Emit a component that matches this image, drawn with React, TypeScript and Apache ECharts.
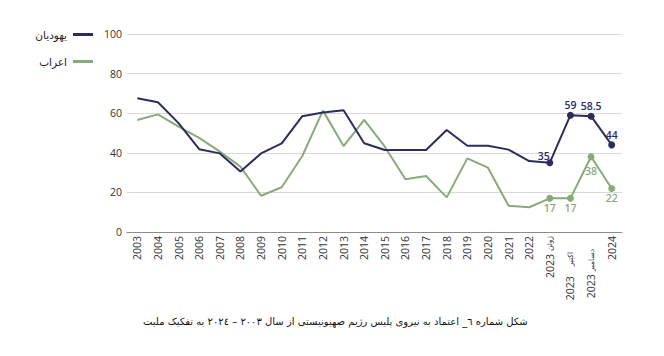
import React, { useEffect, useRef } from "react";
import * as echarts from "echarts";

const categories = [
  "2003", "2004", "2005", "2006", "2007", "2008", "2009", "2010", "2011", "2012",
  "2013", "2014", "2015", "2016", "2017", "2018", "2019", "2020", "2021", "2022",
  "2023 ژوئن", "2023 اکتبر", "2023 دسامبر", "2024",
];

const jews = [
  67.5, 65.5, 55, 41.8, 39.7, 30.5, 39.7, 44.8, 58.5, 60.4,
  61.5, 44.8, 41.4, 41.4, 41.4, 51.5, 43.6, 43.6, 41.6, 35.8,
  35, 59, 58.5, 44,
];

const arabs = [
  56.6, 59.4, 53.2, 47.5, 40.6, 33, 18.3, 22.6, 38.4, 61.3,
  43.4, 56.6, 43.1, 26.6, 28.3, 17.5, 37.2, 32.5, 13.3, 12.5,
  17, 17, 38, 22,
];

const yTicks = [0, 20, 40, 60, 80, 100];

const seriesNames = ["یهودیان", "اعراب"];
const caption =
  "شکل شماره ٦_ اعتماد به نیروی پلیس رژیم صهیونیستی از سال ۲۰۰۳ – ۲۰۲٤ به تفکیک ملیت";

const NAVY = "#2c2d5c";
const GREEN = "#88ab79";
const MARK_FROM = 20;

function buildData(values: number[], color: string, pos: "top" | "bottom", offsets: Record<number, number[]>) {
  return values.map((v, i) => {
    if (i < MARK_FROM) return { value: v, symbol: "none" };
    return {
      value: v,
      symbol: "circle",
      symbolSize: 7,
      label: {
        show: true,
        position: pos,
        distance: 1,
        color,
        fontSize: 10.5,
        fontWeight: 600,
        fontFamily: "Open Sans",
        offset: offsets[i] || [0, 0],
        formatter: String(v),
      },
    };
  });
}

const legendBase = {
  right: 571,
  padding: 0,
  align: "right",
  icon: "rect",
  itemWidth: 20,
  itemHeight: 3,
  textStyle: { fontSize: 10.5, color: "#222", fontFamily: "DejaVu Sans", padding: [0, 1, 0, 0] },
  selectedMode: false,
};

export default function App() {
  const ref = useRef<HTMLDivElement>(null);
  useEffect(() => {
    document.body.style.margin = "0";
    if (!ref.current) return;
    const chart = echarts.init(ref.current, null, { renderer: "svg" });
    chart.setOption({
      animation: false,
      backgroundColor: "#ffffff",
      grid: { left: 127, right: 42, top: 34, bottom: 124, containLabel: false },
      legend: [
        { ...legendBase, data: [seriesNames[0]], top: 29 },
        { ...legendBase, data: [seriesNames[1]], top: 56 },
      ],
      xAxis: {
        type: "category",
        data: categories,
        boundaryGap: true,
        axisLine: { lineStyle: { color: "#8c8c8c", width: 1 } },
        axisTick: { show: false },
        axisLabel: {
          interval: 0,
          rotate: 90,
          margin: 4,
          color: "#333",
          fontSize: 10.5,
          fontFamily: "Open Sans",
          formatter: (val: string) => {
            if (val === categories[20]) return "{n|2023}{g| }{m|ژوئن}";
            if (val === categories[21]) return "{n|2023}{g2| }{m|اکتبر}{e| }";
            if (val === categories[22]) return "{n|2023}{g| }{m|دسامبر}{e2| }";
            return "{n|" + val + "}";
          },
          rich: {
            n: { fontSize: 10.5, fontFamily: "Open Sans", color: "#333" },
            m: { fontSize: 7.5, fontFamily: "DejaVu Sans", color: "#333" },
            g: { width: 3, fontSize: 7 },
            g2: { width: 10, fontSize: 7 },
            e: { width: 16, fontSize: 7 },
            e2: { width: 13, fontSize: 7 },
          },
        },
      },
      yAxis: {
        type: "value",
        min: yTicks[0],
        max: yTicks[yTicks.length - 1],
        interval: 20,
        axisLine: { show: false },
        axisTick: { show: false },
        axisLabel: { color: "#333", fontSize: 10.5, fontFamily: "Open Sans", margin: 5 },
        splitLine: { lineStyle: { color: "#d9d9d9", width: 1 } },
      },
      series: [
        {
          name: seriesNames[0],
          type: "line",
          data: buildData(jews, NAVY, "top", { 20: [-6, 3] }),
          showAllSymbol: true,
          lineStyle: { color: NAVY, width: 2 },
          itemStyle: { color: NAVY },
          z: 3,
        },
        {
          name: seriesNames[1],
          type: "line",
          data: buildData(arabs, GREEN, "bottom", { 22: [0, 4] }),
          showAllSymbol: true,
          lineStyle: { color: GREEN, width: 2 },
          itemStyle: { color: GREEN },
          z: 2,
        },
      ],
      graphic: [
        {
          type: "text",
          left: 143,
          top: 316,
          style: {
            text: caption,
            fontSize: 10,
            fontFamily: "DejaVu Sans",
            fill: "#111",
          },
        },
      ],
    });
    return () => chart.dispose();
  }, []);
  return <div ref={ref} style={{ width: 664, height: 356 }} />;
}
